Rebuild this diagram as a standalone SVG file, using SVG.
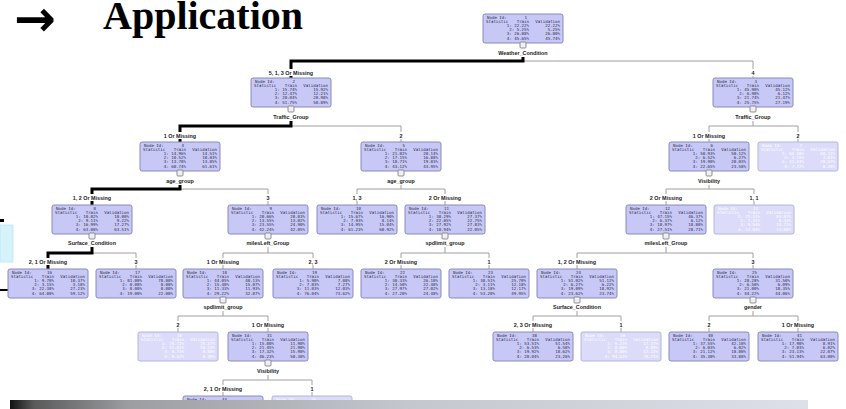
<svg xmlns="http://www.w3.org/2000/svg" width="846" height="409" viewBox="0 0 846 409">
<style>
.box{fill:#c8c8f6;stroke:#8a8abc;stroke-width:1}
.f .box{fill:#dcdcfa;stroke:#b4b4dc}
.t{font-family:"DejaVu Sans Mono",monospace;font-size:4.1px;fill:#2a2a4a}
.f .t{fill:#ffffff}
.e{text-anchor:end}
.lbl{font-family:"Liberation Sans",Arial,sans-serif;font-weight:bold;font-size:5.4px;fill:#222;text-anchor:middle}
.thin{stroke:#a0a0a0;stroke-width:1;fill:none}
.thick{stroke:#000;stroke-width:3;fill:none}
.h{fill:#eeeef6;stroke:#777;stroke-width:.8}
.title{font-family:"Liberation Serif","Times New Roman",serif;font-weight:bold;font-size:40px;fill:#000}
.arrow{font-family:"DejaVu Sans",sans-serif;font-weight:bold;font-size:50px;fill:#000}
</style>
<defs>
<linearGradient id="bar" x1="0" y1="0" x2="1" y2="0">
<stop offset="0" stop-color="#111"/>
<stop offset="0.03" stop-color="#5a5a5a"/>
<stop offset="0.15" stop-color="#9c9ea2"/>
<stop offset="0.5" stop-color="#c4c7ce"/>
<stop offset="1" stop-color="#dde0e8"/>
</linearGradient>
</defs>
<rect width="846" height="409" fill="#fff"/>
<g id="title">
<text class="arrow" x="14" y="36">→</text>
<text class="title" x="103" y="29">Application</text>
</g>
<g id="edge-artifacts">
<rect x="0" y="219" width="4" height="3" fill="#000"/>
<rect x="0" y="225" width="13" height="37" fill="#d6f3fa" stroke="#b8e6f0" stroke-width="0.8"/>
<rect x="0" y="289" width="8" height="2" fill="#000"/>
</g>
<g id="connectors">
<path class="thin" d="M523,61H753V69M753,76V78"/>
<path class="thin" d="M291,126H401V132M401,139V142"/>
<path class="thin" d="M753,121V126M709,132V126H798V132M709,139V142M798,139V142"/>
<path class="thin" d="M180,189H268V194M268,201V205"/>
<path class="thin" d="M401,185V189M357,194V189H445V194M357,201V205M445,201V205"/>
<path class="thin" d="M709,185V189M666,194V189H754V194M666,201V205M754,201V205"/>
<path class="thin" d="M92,253H136V258M136,265V269"/>
<path class="thin" d="M268,247V253M223,258V253H313V258M223,265V269M313,265V269"/>
<path class="thin" d="M445,247V253M401,258V253H489V258M401,265V269M489,265V269"/>
<path class="thin" d="M666,247V253M577,258V253H753V258M577,265V269M753,265V269"/>
<path class="thin" d="M223,311V316M178,321V316H268V321M178,328V332M268,328V332"/>
<path class="thin" d="M577,311V316M533,321V316H621V321M533,328V332M621,328V332"/>
<path class="thin" d="M753,311V316M709,321V316H798V321M709,328V332M798,328V332"/>
<path class="thin" d="M268,375V380M223,385V380H312V385M223,392V396M312,392V396"/>
<path class="thick" d="M523,57V61H291V69M291,76V78"/>
<path class="thick" d="M291,121V126H180V132M180,139V142"/>
<path class="thick" d="M180,185V189H92V194M92,201V205"/>
<path class="thick" d="M92,247V253H48V258M48,265V269"/>
<text class="lbl" x="291" y="75">5, 1, 3 Or Missing</text>
<text class="lbl" x="753" y="75">4</text>
<text class="lbl" x="180" y="138">1 Or Missing</text>
<text class="lbl" x="401" y="138">2</text>
<text class="lbl" x="709" y="138">1 Or Missing</text>
<text class="lbl" x="798" y="138">2</text>
<text class="lbl" x="92" y="200">1, 2 Or Missing</text>
<text class="lbl" x="268" y="200">3</text>
<text class="lbl" x="357" y="200">1, 3</text>
<text class="lbl" x="445" y="200">2 Or Missing</text>
<text class="lbl" x="666" y="200">2 Or Missing</text>
<text class="lbl" x="754" y="200">1, 1</text>
<text class="lbl" x="48" y="264">2, 1 Or Missing</text>
<text class="lbl" x="136" y="264">3</text>
<text class="lbl" x="223" y="264">1 Or Missing</text>
<text class="lbl" x="313" y="264">2, 3</text>
<text class="lbl" x="401" y="264">2 Or Missing</text>
<text class="lbl" x="489" y="264">1</text>
<text class="lbl" x="577" y="264">1, 2 Or Missing</text>
<text class="lbl" x="753" y="264">3</text>
<text class="lbl" x="178" y="327">2</text>
<text class="lbl" x="268" y="327">1 Or Missing</text>
<text class="lbl" x="533" y="327">2, 3 Or Missing</text>
<text class="lbl" x="621" y="327">1</text>
<text class="lbl" x="709" y="327">2</text>
<text class="lbl" x="798" y="327">1 Or Missing</text>
<text class="lbl" x="223" y="391">2, 1 Or Missing</text>
<text class="lbl" x="312" y="391">1</text>
</g>
<g id="node1" transform="translate(483,14)"><rect class="box" width="80" height="29" rx="2"/><text class="t"><tspan x="4" y="4.6">Node Id:</tspan><tspan x="3" y="8.8">Statistic</tspan></text><text class="t e"><tspan x="44" y="4.6">1</tspan><tspan x="46" y="8.8">Train</tspan><tspan x="46" y="13">1: 22.22%</tspan><tspan x="46" y="17.2">2: 5.25%</tspan><tspan x="46" y="21.4">3: 26.88%</tspan><tspan x="46" y="25.6">4: 45.65%</tspan></text><text class="t e"><tspan x="77" y="8.8">Validation</tspan><tspan x="77" y="13">22.22%</tspan><tspan x="77" y="17.2">5.25%</tspan><tspan x="77" y="21.4">26.80%</tspan><tspan x="77" y="25.6">45.74%</tspan></text><rect class="h" x="37" y="28" width="6" height="6" rx="1"/><text class="lbl" x="40" y="41">Weather_Condition</text></g>
<g id="node2" transform="translate(251,78)"><rect class="box" width="80" height="29" rx="2"/><text class="t"><tspan x="4" y="4.6">Node Id:</tspan><tspan x="3" y="8.8">Statistic</tspan></text><text class="t e"><tspan x="44" y="4.6">2</tspan><tspan x="46" y="8.8">Train</tspan><tspan x="46" y="13">1: 15.74%</tspan><tspan x="46" y="17.2">2: 12.47%</tspan><tspan x="46" y="21.4">3: 20.04%</tspan><tspan x="46" y="25.6">4: 51.75%</tspan></text><text class="t e"><tspan x="77" y="8.8">Validation</tspan><tspan x="77" y="13">15.92%</tspan><tspan x="77" y="17.2">12.21%</tspan><tspan x="77" y="21.4">20.98%</tspan><tspan x="77" y="25.6">50.89%</tspan></text><rect class="h" x="37" y="28" width="6" height="6" rx="1"/><text class="lbl" x="40" y="41">Traffic_Group</text></g>
<g id="node3" transform="translate(713,78)"><rect class="box" width="80" height="29" rx="2"/><text class="t"><tspan x="4" y="4.6">Node Id:</tspan><tspan x="3" y="8.8">Statistic</tspan></text><text class="t e"><tspan x="44" y="4.6">3</tspan><tspan x="46" y="8.8">Train</tspan><tspan x="46" y="13">1: 45.90%</tspan><tspan x="46" y="17.2">2: 6.90%</tspan><tspan x="46" y="21.4">3: 21.74%</tspan><tspan x="46" y="25.6">4: 25.75%</tspan></text><text class="t e"><tspan x="77" y="8.8">Validation</tspan><tspan x="77" y="13">45.12%</tspan><tspan x="77" y="17.2">6.12%</tspan><tspan x="77" y="21.4">21.47%</tspan><tspan x="77" y="25.6">27.19%</tspan></text><rect class="h" x="37" y="28" width="6" height="6" rx="1"/><text class="lbl" x="40" y="41">Traffic_Group</text></g>
<g id="node4" transform="translate(140,142)"><rect class="box" width="80" height="29" rx="2"/><text class="t"><tspan x="4" y="4.6">Node Id:</tspan><tspan x="3" y="8.8">Statistic</tspan></text><text class="t e"><tspan x="44" y="4.6">4</tspan><tspan x="46" y="8.8">Train</tspan><tspan x="46" y="13">1: 14.96%</tspan><tspan x="46" y="17.2">2: 10.52%</tspan><tspan x="46" y="21.4">3: 13.78%</tspan><tspan x="46" y="25.6">4: 60.74%</tspan></text><text class="t e"><tspan x="77" y="8.8">Validation</tspan><tspan x="77" y="13">14.51%</tspan><tspan x="77" y="17.2">10.03%</tspan><tspan x="77" y="21.4">13.85%</tspan><tspan x="77" y="25.6">61.61%</tspan></text><rect class="h" x="37" y="28" width="6" height="6" rx="1"/><text class="lbl" x="40" y="41">age_group</text></g>
<g id="node5" transform="translate(361,142)"><rect class="box" width="80" height="29" rx="2"/><text class="t"><tspan x="4" y="4.6">Node Id:</tspan><tspan x="3" y="8.8">Statistic</tspan></text><text class="t e"><tspan x="44" y="4.6">5</tspan><tspan x="46" y="8.8">Train</tspan><tspan x="46" y="13">1: 21.02%</tspan><tspan x="46" y="17.2">2: 17.15%</tspan><tspan x="46" y="21.4">3: 18.71%</tspan><tspan x="46" y="25.6">4: 43.12%</tspan></text><text class="t e"><tspan x="77" y="8.8">Validation</tspan><tspan x="77" y="13">20.14%</tspan><tspan x="77" y="17.2">16.88%</tspan><tspan x="77" y="21.4">19.03%</tspan><tspan x="77" y="25.6">43.95%</tspan></text><rect class="h" x="37" y="28" width="6" height="6" rx="1"/><text class="lbl" x="40" y="41">age_group</text></g>
<g id="node6" transform="translate(669,142)"><rect class="box" width="80" height="29" rx="2"/><text class="t"><tspan x="4" y="4.6">Node Id:</tspan><tspan x="3" y="8.8">Statistic</tspan></text><text class="t e"><tspan x="44" y="4.6">6</tspan><tspan x="46" y="8.8">Train</tspan><tspan x="46" y="13">1: 50.93%</tspan><tspan x="46" y="17.2">2: 6.52%</tspan><tspan x="46" y="21.4">3: 19.90%</tspan><tspan x="46" y="25.6">4: 22.65%</tspan></text><text class="t e"><tspan x="77" y="8.8">Validation</tspan><tspan x="77" y="13">50.12%</tspan><tspan x="77" y="17.2">6.27%</tspan><tspan x="77" y="21.4">20.03%</tspan><tspan x="77" y="25.6">23.58%</tspan></text><rect class="h" x="37" y="28" width="6" height="6" rx="1"/><text class="lbl" x="40" y="41">Visibility</text></g>
<g id="node7" class="f" transform="translate(758,142)"><rect class="box" width="80" height="29" rx="2"/><text class="t"><tspan x="4" y="4.6">Node Id:</tspan><tspan x="3" y="8.8">Statistic</tspan></text><text class="t e"><tspan x="44" y="4.6">7</tspan><tspan x="46" y="8.8">Train</tspan><tspan x="46" y="13">1: 66.50%</tspan><tspan x="46" y="17.2">2: 3.15%</tspan><tspan x="46" y="21.4">3: 22.63%</tspan><tspan x="46" y="25.6">4: 7.72%</tspan></text><text class="t e"><tspan x="77" y="8.8">Validation</tspan><tspan x="77" y="13">68.12%</tspan><tspan x="77" y="17.2">3.03%</tspan><tspan x="77" y="21.4">20.57%</tspan><tspan x="77" y="25.6">8.28%</tspan></text></g>
<g id="node8" transform="translate(52,205)"><rect class="box" width="80" height="29" rx="2"/><text class="t"><tspan x="4" y="4.6">Node Id:</tspan><tspan x="3" y="8.8">Statistic</tspan></text><text class="t e"><tspan x="44" y="4.6">8</tspan><tspan x="46" y="8.8">Train</tspan><tspan x="46" y="13">1: 10.02%</tspan><tspan x="46" y="17.2">2: 9.11%</tspan><tspan x="46" y="21.4">3: 16.99%</tspan><tspan x="46" y="25.6">4: 63.88%</tspan></text><text class="t e"><tspan x="77" y="8.8">Validation</tspan><tspan x="77" y="13">10.00%</tspan><tspan x="77" y="17.2">9.22%</tspan><tspan x="77" y="21.4">17.27%</tspan><tspan x="77" y="25.6">63.51%</tspan></text><rect class="h" x="37" y="28" width="6" height="6" rx="1"/><text class="lbl" x="40" y="40">Surface_Condition</text></g>
<g id="node9" transform="translate(228,205)"><rect class="box" width="80" height="29" rx="2"/><text class="t"><tspan x="4" y="4.6">Node Id:</tspan><tspan x="3" y="8.8">Statistic</tspan></text><text class="t e"><tspan x="44" y="4.6">9</tspan><tspan x="46" y="8.8">Train</tspan><tspan x="46" y="13">1: 20.66%</tspan><tspan x="46" y="17.2">2: 13.55%</tspan><tspan x="46" y="21.4">3: 23.55%</tspan><tspan x="46" y="25.6">4: 42.24%</tspan></text><text class="t e"><tspan x="77" y="8.8">Validation</tspan><tspan x="77" y="13">20.03%</tspan><tspan x="77" y="17.2">13.02%</tspan><tspan x="77" y="21.4">24.90%</tspan><tspan x="77" y="25.6">42.05%</tspan></text><rect class="h" x="37" y="28" width="6" height="6" rx="1"/><text class="lbl" x="40" y="40">milesLeft_Group</text></g>
<g id="node10" transform="translate(317,205)"><rect class="box" width="80" height="29" rx="2"/><text class="t"><tspan x="4" y="4.6">Node Id:</tspan><tspan x="3" y="8.8">Statistic</tspan></text><text class="t e"><tspan x="44" y="4.6">10</tspan><tspan x="46" y="8.8">Train</tspan><tspan x="46" y="13">1: 15.67%</tspan><tspan x="46" y="17.2">2: 7.93%</tspan><tspan x="46" y="21.4">3: 14.95%</tspan><tspan x="46" y="25.6">4: 61.23%</tspan></text><text class="t e"><tspan x="77" y="8.8">Validation</tspan><tspan x="77" y="13">16.90%</tspan><tspan x="77" y="17.2">8.14%</tspan><tspan x="77" y="21.4">15.04%</tspan><tspan x="77" y="25.6">60.92%</tspan></text></g>
<g id="node11" transform="translate(405,205)"><rect class="box" width="80" height="29" rx="2"/><text class="t"><tspan x="4" y="4.6">Node Id:</tspan><tspan x="3" y="8.8">Statistic</tspan></text><text class="t e"><tspan x="44" y="4.6">11</tspan><tspan x="46" y="8.8">Train</tspan><tspan x="46" y="13">1: 30.29%</tspan><tspan x="46" y="17.2">2: 22.85%</tspan><tspan x="46" y="21.4">3: 27.92%</tspan><tspan x="46" y="25.6">4: 18.94%</tspan></text><text class="t e"><tspan x="77" y="8.8">Validation</tspan><tspan x="77" y="13">27.37%</tspan><tspan x="77" y="17.2">22.75%</tspan><tspan x="77" y="21.4">27.83%</tspan><tspan x="77" y="25.6">22.05%</tspan></text><rect class="h" x="37" y="28" width="6" height="6" rx="1"/><text class="lbl" x="40" y="40">spdlimit_group</text></g>
<g id="node12" transform="translate(626,205)"><rect class="box" width="80" height="29" rx="2"/><text class="t"><tspan x="4" y="4.6">Node Id:</tspan><tspan x="3" y="8.8">Statistic</tspan></text><text class="t e"><tspan x="44" y="4.6">12</tspan><tspan x="46" y="8.8">Train</tspan><tspan x="46" y="13">1: 47.15%</tspan><tspan x="46" y="17.2">2: 6.37%</tspan><tspan x="46" y="21.4">3: 18.97%</tspan><tspan x="46" y="25.6">4: 27.51%</tspan></text><text class="t e"><tspan x="77" y="8.8">Validation</tspan><tspan x="77" y="13">46.37%</tspan><tspan x="77" y="17.2">6.12%</tspan><tspan x="77" y="21.4">18.80%</tspan><tspan x="77" y="25.6">28.71%</tspan></text><rect class="h" x="37" y="28" width="6" height="6" rx="1"/><text class="lbl" x="40" y="40">milesLeft_Group</text></g>
<g id="node13" class="f" transform="translate(714,205)"><rect class="box" width="80" height="29" rx="2"/><text class="t"><tspan x="4" y="4.6">Node Id:</tspan><tspan x="3" y="8.8">Statistic</tspan></text><text class="t e"><tspan x="44" y="4.6">13</tspan><tspan x="46" y="8.8">Train</tspan><tspan x="46" y="13">1: 71.11%</tspan><tspan x="46" y="17.2">2: 7.31%</tspan><tspan x="46" y="21.4">3: 9.54%</tspan><tspan x="46" y="25.6">4: 12.04%</tspan></text><text class="t e"><tspan x="77" y="8.8">Validation</tspan><tspan x="77" y="13">63.97%</tspan><tspan x="77" y="17.2">8.33%</tspan><tspan x="77" y="21.4">14.71%</tspan><tspan x="77" y="25.6">13.00%</tspan></text></g>
<g id="node16" transform="translate(8,269)"><rect class="box" width="80" height="29" rx="2"/><text class="t"><tspan x="4" y="4.6">Node Id:</tspan><tspan x="3" y="8.8">Statistic</tspan></text><text class="t e"><tspan x="44" y="4.6">16</tspan><tspan x="46" y="8.8">Train</tspan><tspan x="46" y="13">1: 9.70%</tspan><tspan x="46" y="17.2">2: 3.15%</tspan><tspan x="46" y="21.4">3: 22.38%</tspan><tspan x="46" y="25.6">4: 64.80%</tspan></text><text class="t e"><tspan x="77" y="8.8">Validation</tspan><tspan x="77" y="13">10.37%</tspan><tspan x="77" y="17.2">3.18%</tspan><tspan x="77" y="21.4">27.23%</tspan><tspan x="77" y="25.6">59.12%</tspan></text></g>
<g id="node17" transform="translate(96,269)"><rect class="box" width="80" height="29" rx="2"/><text class="t"><tspan x="4" y="4.6">Node Id:</tspan><tspan x="3" y="8.8">Statistic</tspan></text><text class="t e"><tspan x="44" y="4.6">17</tspan><tspan x="46" y="8.8">Train</tspan><tspan x="46" y="13">1: 81.00%</tspan><tspan x="46" y="17.2">2: 0.00%</tspan><tspan x="46" y="21.4">3: 0.00%</tspan><tspan x="46" y="25.6">4: 19.00%</tspan></text><text class="t e"><tspan x="77" y="8.8">Validation</tspan><tspan x="77" y="13">78.00%</tspan><tspan x="77" y="17.2">0.00%</tspan><tspan x="77" y="21.4">0.00%</tspan><tspan x="77" y="25.6">22.00%</tspan></text></g>
<g id="node18" transform="translate(183,269)"><rect class="box" width="80" height="29" rx="2"/><text class="t"><tspan x="4" y="4.6">Node Id:</tspan><tspan x="3" y="8.8">Statistic</tspan></text><text class="t e"><tspan x="44" y="4.6">18</tspan><tspan x="46" y="8.8">Train</tspan><tspan x="46" y="13">1: 44.05%</tspan><tspan x="46" y="17.2">2: 15.40%</tspan><tspan x="46" y="21.4">3: 11.33%</tspan><tspan x="46" y="25.6">4: 29.22%</tspan></text><text class="t e"><tspan x="77" y="8.8">Validation</tspan><tspan x="77" y="13">40.13%</tspan><tspan x="77" y="17.2">15.07%</tspan><tspan x="77" y="21.4">11.93%</tspan><tspan x="77" y="25.6">32.87%</tspan></text><rect class="h" x="37" y="28" width="6" height="6" rx="1"/><text class="lbl" x="40" y="40">spdlimit_group</text></g>
<g id="node19" transform="translate(273,269)"><rect class="box" width="80" height="29" rx="2"/><text class="t"><tspan x="4" y="4.6">Node Id:</tspan><tspan x="3" y="8.8">Statistic</tspan></text><text class="t e"><tspan x="44" y="4.6">19</tspan><tspan x="46" y="8.8">Train</tspan><tspan x="46" y="13">1: 5.90%</tspan><tspan x="46" y="17.2">2: 7.03%</tspan><tspan x="46" y="21.4">3: 11.03%</tspan><tspan x="46" y="25.6">4: 76.04%</tspan></text><text class="t e"><tspan x="77" y="8.8">Validation</tspan><tspan x="77" y="13">7.08%</tspan><tspan x="77" y="17.2">7.27%</tspan><tspan x="77" y="21.4">12.03%</tspan><tspan x="77" y="25.6">73.62%</tspan></text></g>
<g id="node22" transform="translate(361,269)"><rect class="box" width="80" height="29" rx="2"/><text class="t"><tspan x="4" y="4.6">Node Id:</tspan><tspan x="3" y="8.8">Statistic</tspan></text><text class="t e"><tspan x="44" y="4.6">22</tspan><tspan x="46" y="8.8">Train</tspan><tspan x="46" y="13">1: 30.33%</tspan><tspan x="46" y="17.2">2: 14.50%</tspan><tspan x="46" y="21.4">3: 27.97%</tspan><tspan x="46" y="25.6">4: 27.20%</tspan></text><text class="t e"><tspan x="77" y="8.8">Validation</tspan><tspan x="77" y="13">26.10%</tspan><tspan x="77" y="17.2">22.40%</tspan><tspan x="77" y="21.4">27.02%</tspan><tspan x="77" y="25.6">24.48%</tspan></text></g>
<g id="node23" transform="translate(449,269)"><rect class="box" width="80" height="29" rx="2"/><text class="t"><tspan x="4" y="4.6">Node Id:</tspan><tspan x="3" y="8.8">Statistic</tspan></text><text class="t e"><tspan x="44" y="4.6">23</tspan><tspan x="46" y="8.8">Train</tspan><tspan x="46" y="13">1: 30.51%</tspan><tspan x="46" y="17.2">2: 3.11%</tspan><tspan x="46" y="21.4">3: 13.18%</tspan><tspan x="46" y="25.6">4: 53.20%</tspan></text><text class="t e"><tspan x="77" y="8.8">Validation</tspan><tspan x="77" y="13">25.70%</tspan><tspan x="77" y="17.2">12.18%</tspan><tspan x="77" y="21.4">12.17%</tspan><tspan x="77" y="25.6">49.95%</tspan></text></g>
<g id="node24" transform="translate(537,269)"><rect class="box" width="80" height="29" rx="2"/><text class="t"><tspan x="4" y="4.6">Node Id:</tspan><tspan x="3" y="8.8">Statistic</tspan></text><text class="t e"><tspan x="44" y="4.6">24</tspan><tspan x="46" y="8.8">Train</tspan><tspan x="46" y="13">1: 51.02%</tspan><tspan x="46" y="17.2">2: 6.27%</tspan><tspan x="46" y="21.4">3: 19.09%</tspan><tspan x="46" y="25.6">4: 23.62%</tspan></text><text class="t e"><tspan x="77" y="8.8">Validation</tspan><tspan x="77" y="13">51.12%</tspan><tspan x="77" y="17.2">6.22%</tspan><tspan x="77" y="21.4">18.92%</tspan><tspan x="77" y="25.6">23.74%</tspan></text><rect class="h" x="37" y="28" width="6" height="6" rx="1"/><text class="lbl" x="40" y="40">Surface_Condition</text></g>
<g id="node25" transform="translate(713,269)"><rect class="box" width="80" height="29" rx="2"/><text class="t"><tspan x="4" y="4.6">Node Id:</tspan><tspan x="3" y="8.8">Statistic</tspan></text><text class="t e"><tspan x="44" y="4.6">25</tspan><tspan x="46" y="8.8">Train</tspan><tspan x="46" y="13">1: 28.28%</tspan><tspan x="46" y="17.2">2: 6.50%</tspan><tspan x="46" y="21.4">3: 21.00%</tspan><tspan x="46" y="25.6">4: 44.22%</tspan></text><text class="t e"><tspan x="77" y="8.8">Validation</tspan><tspan x="77" y="13">31.50%</tspan><tspan x="77" y="17.2">6.09%</tspan><tspan x="77" y="21.4">18.35%</tspan><tspan x="77" y="25.6">44.06%</tspan></text><rect class="h" x="37" y="28" width="6" height="6" rx="1"/><text class="lbl" x="40" y="40">gender</text></g>
<g id="node30" class="f" transform="translate(138,332)"><rect class="box" width="80" height="29" rx="2"/><text class="t"><tspan x="4" y="4.6">Node Id:</tspan><tspan x="3" y="8.8">Statistic</tspan></text><text class="t e"><tspan x="44" y="4.6">30</tspan><tspan x="46" y="8.8">Train</tspan><tspan x="46" y="13">1: 78.72%</tspan><tspan x="46" y="17.2">2: 12.81%</tspan><tspan x="46" y="21.4">3: 0.73%</tspan><tspan x="46" y="25.6">4: 8.52%</tspan></text><text class="t e"><tspan x="77" y="8.8">Validation</tspan><tspan x="77" y="13">75.37%</tspan><tspan x="77" y="17.2">18.24%</tspan><tspan x="77" y="21.4">0.00%</tspan><tspan x="77" y="25.6">6.39%</tspan></text></g>
<g id="node31" transform="translate(228,332)"><rect class="box" width="80" height="29" rx="2"/><text class="t"><tspan x="4" y="4.6">Node Id:</tspan><tspan x="3" y="8.8">Statistic</tspan></text><text class="t e"><tspan x="44" y="4.6">31</tspan><tspan x="46" y="8.8">Train</tspan><tspan x="46" y="13">1: 15.00%</tspan><tspan x="46" y="17.2">2: 21.45%</tspan><tspan x="46" y="21.4">3: 17.32%</tspan><tspan x="46" y="25.6">4: 46.23%</tspan></text><text class="t e"><tspan x="77" y="8.8">Validation</tspan><tspan x="77" y="13">11.90%</tspan><tspan x="77" y="17.2">21.90%</tspan><tspan x="77" y="21.4">15.90%</tspan><tspan x="77" y="25.6">50.30%</tspan></text><rect class="h" x="37" y="28" width="6" height="6" rx="1"/><text class="lbl" x="40" y="41">Visibility</text></g>
<g id="node38" transform="translate(493,332)"><rect class="box" width="80" height="29" rx="2"/><text class="t"><tspan x="4" y="4.6">Node Id:</tspan><tspan x="3" y="8.8">Statistic</tspan></text><text class="t e"><tspan x="44" y="4.6">38</tspan><tspan x="46" y="8.8">Train</tspan><tspan x="46" y="13">1: 53.51%</tspan><tspan x="46" y="17.2">2: 6.53%</tspan><tspan x="46" y="21.4">3: 19.92%</tspan><tspan x="46" y="25.6">4: 20.04%</tspan></text><text class="t e"><tspan x="77" y="8.8">Validation</tspan><tspan x="77" y="13">51.54%</tspan><tspan x="77" y="17.2">6.58%</tspan><tspan x="77" y="21.4">18.62%</tspan><tspan x="77" y="25.6">23.26%</tspan></text></g>
<g id="node39" class="f" transform="translate(581,332)"><rect class="box" width="80" height="29" rx="2"/><text class="t"><tspan x="4" y="4.6">Node Id:</tspan><tspan x="3" y="8.8">Statistic</tspan></text><text class="t e"><tspan x="44" y="4.6">39</tspan><tspan x="46" y="8.8">Train</tspan><tspan x="46" y="13">1: 5.37%</tspan><tspan x="46" y="17.2">2: 0.00%</tspan><tspan x="46" y="21.4">3: 0.00%</tspan><tspan x="46" y="25.6">4: 94.63%</tspan></text><text class="t e"><tspan x="77" y="8.8">Validation</tspan><tspan x="77" y="13">17.17%</tspan><tspan x="77" y="17.2">0.00%</tspan><tspan x="77" y="21.4">12.12%</tspan><tspan x="77" y="25.6">70.71%</tspan></text></g>
<g id="node40" transform="translate(669,332)"><rect class="box" width="80" height="29" rx="2"/><text class="t"><tspan x="4" y="4.6">Node Id:</tspan><tspan x="3" y="8.8">Statistic</tspan></text><text class="t e"><tspan x="44" y="4.6">40</tspan><tspan x="46" y="8.8">Train</tspan><tspan x="46" y="13">1: 37.55%</tspan><tspan x="46" y="17.2">2: 6.03%</tspan><tspan x="46" y="21.4">3: 21.12%</tspan><tspan x="46" y="25.6">4: 35.30%</tspan></text><text class="t e"><tspan x="77" y="8.8">Validation</tspan><tspan x="77" y="13">42.10%</tspan><tspan x="77" y="17.2">6.02%</tspan><tspan x="77" y="21.4">18.00%</tspan><tspan x="77" y="25.6">33.88%</tspan></text></g>
<g id="node41" transform="translate(758,332)"><rect class="box" width="80" height="29" rx="2"/><text class="t"><tspan x="4" y="4.6">Node Id:</tspan><tspan x="3" y="8.8">Statistic</tspan></text><text class="t e"><tspan x="44" y="4.6">41</tspan><tspan x="46" y="8.8">Train</tspan><tspan x="46" y="13">1: 17.90%</tspan><tspan x="46" y="17.2">2: 7.03%</tspan><tspan x="46" y="21.4">3: 23.13%</tspan><tspan x="46" y="25.6">4: 51.94%</tspan></text><text class="t e"><tspan x="77" y="8.8">Validation</tspan><tspan x="77" y="13">8.91%</tspan><tspan x="77" y="17.2">6.02%</tspan><tspan x="77" y="21.4">22.07%</tspan><tspan x="77" y="25.6">63.00%</tspan></text></g>
<g id="node44" transform="translate(183,396)"><rect class="box" width="80" height="29" rx="2"/><text class="t"><tspan x="4" y="4.6">Node Id:</tspan></text><text class="t e"><tspan x="44" y="4.6">44</tspan></text></g>
<g id="node45" class="f" transform="translate(272,396)"><rect class="box" width="80" height="29" rx="2"/><text class="t"><tspan x="4" y="4.6">Node Id:</tspan></text><text class="t e"><tspan x="44" y="4.6">45</tspan></text></g>
<rect id="bottom-bar" x="10" y="400" width="798" height="9" fill="url(#bar)"/>
</svg>
